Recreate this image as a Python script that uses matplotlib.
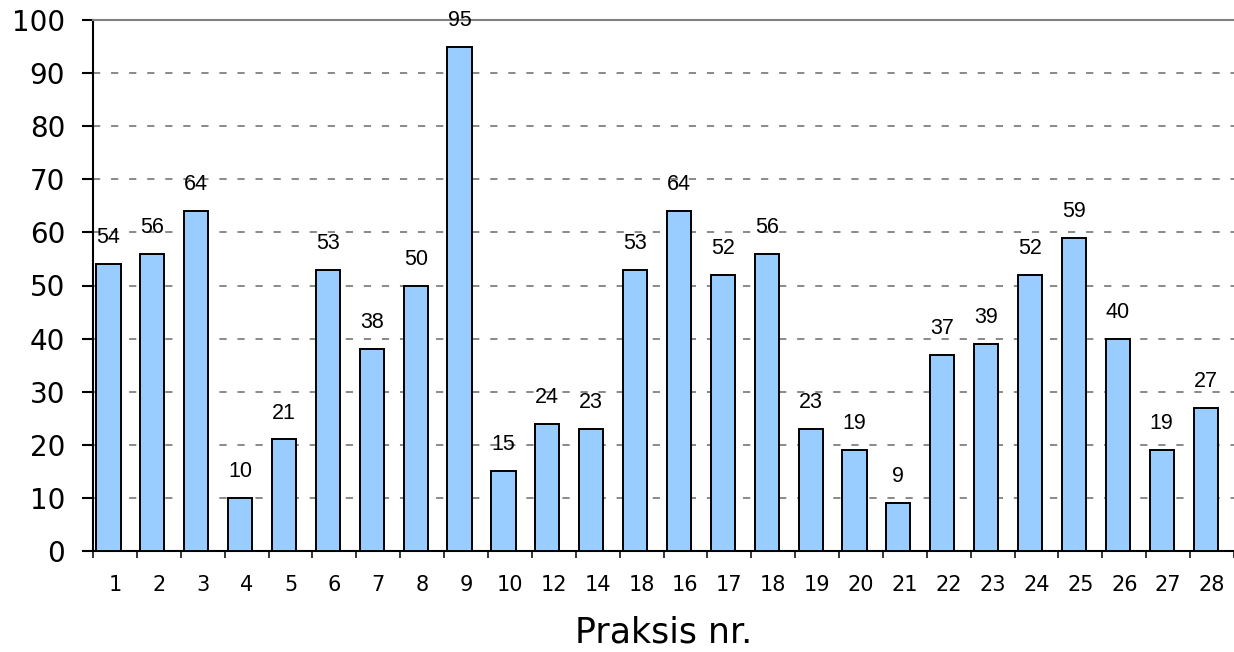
import numpy as np
import matplotlib.pyplot as plt
from matplotlib.ticker import FixedLocator

practices = ["1", "2", "3", "4", "5", "6", "7", "8", "9", "10", "12", "14", "18",
             "16", "17", "18", "19", "20", "21", "22", "23", "24", "25", "26", "27", "28"]
counts = [54, 56, 64, 10, 21, 53, 38, 50, 95, 15, 24, 23, 53,
          64, 52, 56, 23, 19, 9, 37, 39, 52, 59, 40, 19, 27]
y_ticks = list(range(0, 101, 10))

fig = plt.figure(figsize=(12.34, 6.52), dpi=100)
ax = fig.add_axes([93 / 1234, 1 - 551 / 652, 1 - 93 / 1234, (551 - 20) / 652])

x = np.arange(len(practices))
bars = ax.bar(x, counts, width=0.55, color="#99CCFF", edgecolor="black",
              linewidth=1.4, zorder=3)
for b, v in zip(bars, counts):
    ax.annotate(str(v), (b.get_x() + b.get_width() / 2, v), xytext=(0, 19),
                textcoords="offset points", ha="center", va="center",
                fontsize=15.5, family="Liberation Sans", zorder=4)

ax.set_xlim(-0.353, len(practices) - 0.353)
ax.set_ylim(0, 100)

# category boundaries get the tick marks, labels sit between them
ax.xaxis.set_major_locator(FixedLocator(x + 0.148))
ax.set_xticklabels(practices)
ax.xaxis.set_minor_locator(FixedLocator(np.arange(len(practices) + 1) - 0.353))
ax.tick_params(axis="x", which="major", length=0, pad=17, labelsize=15)
ax.tick_params(axis="x", which="minor", length=5, width=1.1, color="black")

ax.set_yticks(y_ticks)
ax.tick_params(axis="y", length=8, width=1.5, pad=12, labelsize=20)

for yv in y_ticks[1:-1]:
    ax.axhline(yv, color="#808080", linestyle=(0, (4, 6)), linewidth=1.3, zorder=1)

ax.spines["right"].set_visible(False)
ax.spines["top"].set_color("#808080")
ax.spines["top"].set_linewidth(1.5)
ax.spines["left"].set_linewidth(1.5)
ax.spines["bottom"].set_linewidth(1.5)

ax.set_xlabel("Praksis nr.", fontsize=25, labelpad=15)

fig.savefig("out.png", dpi=100)
